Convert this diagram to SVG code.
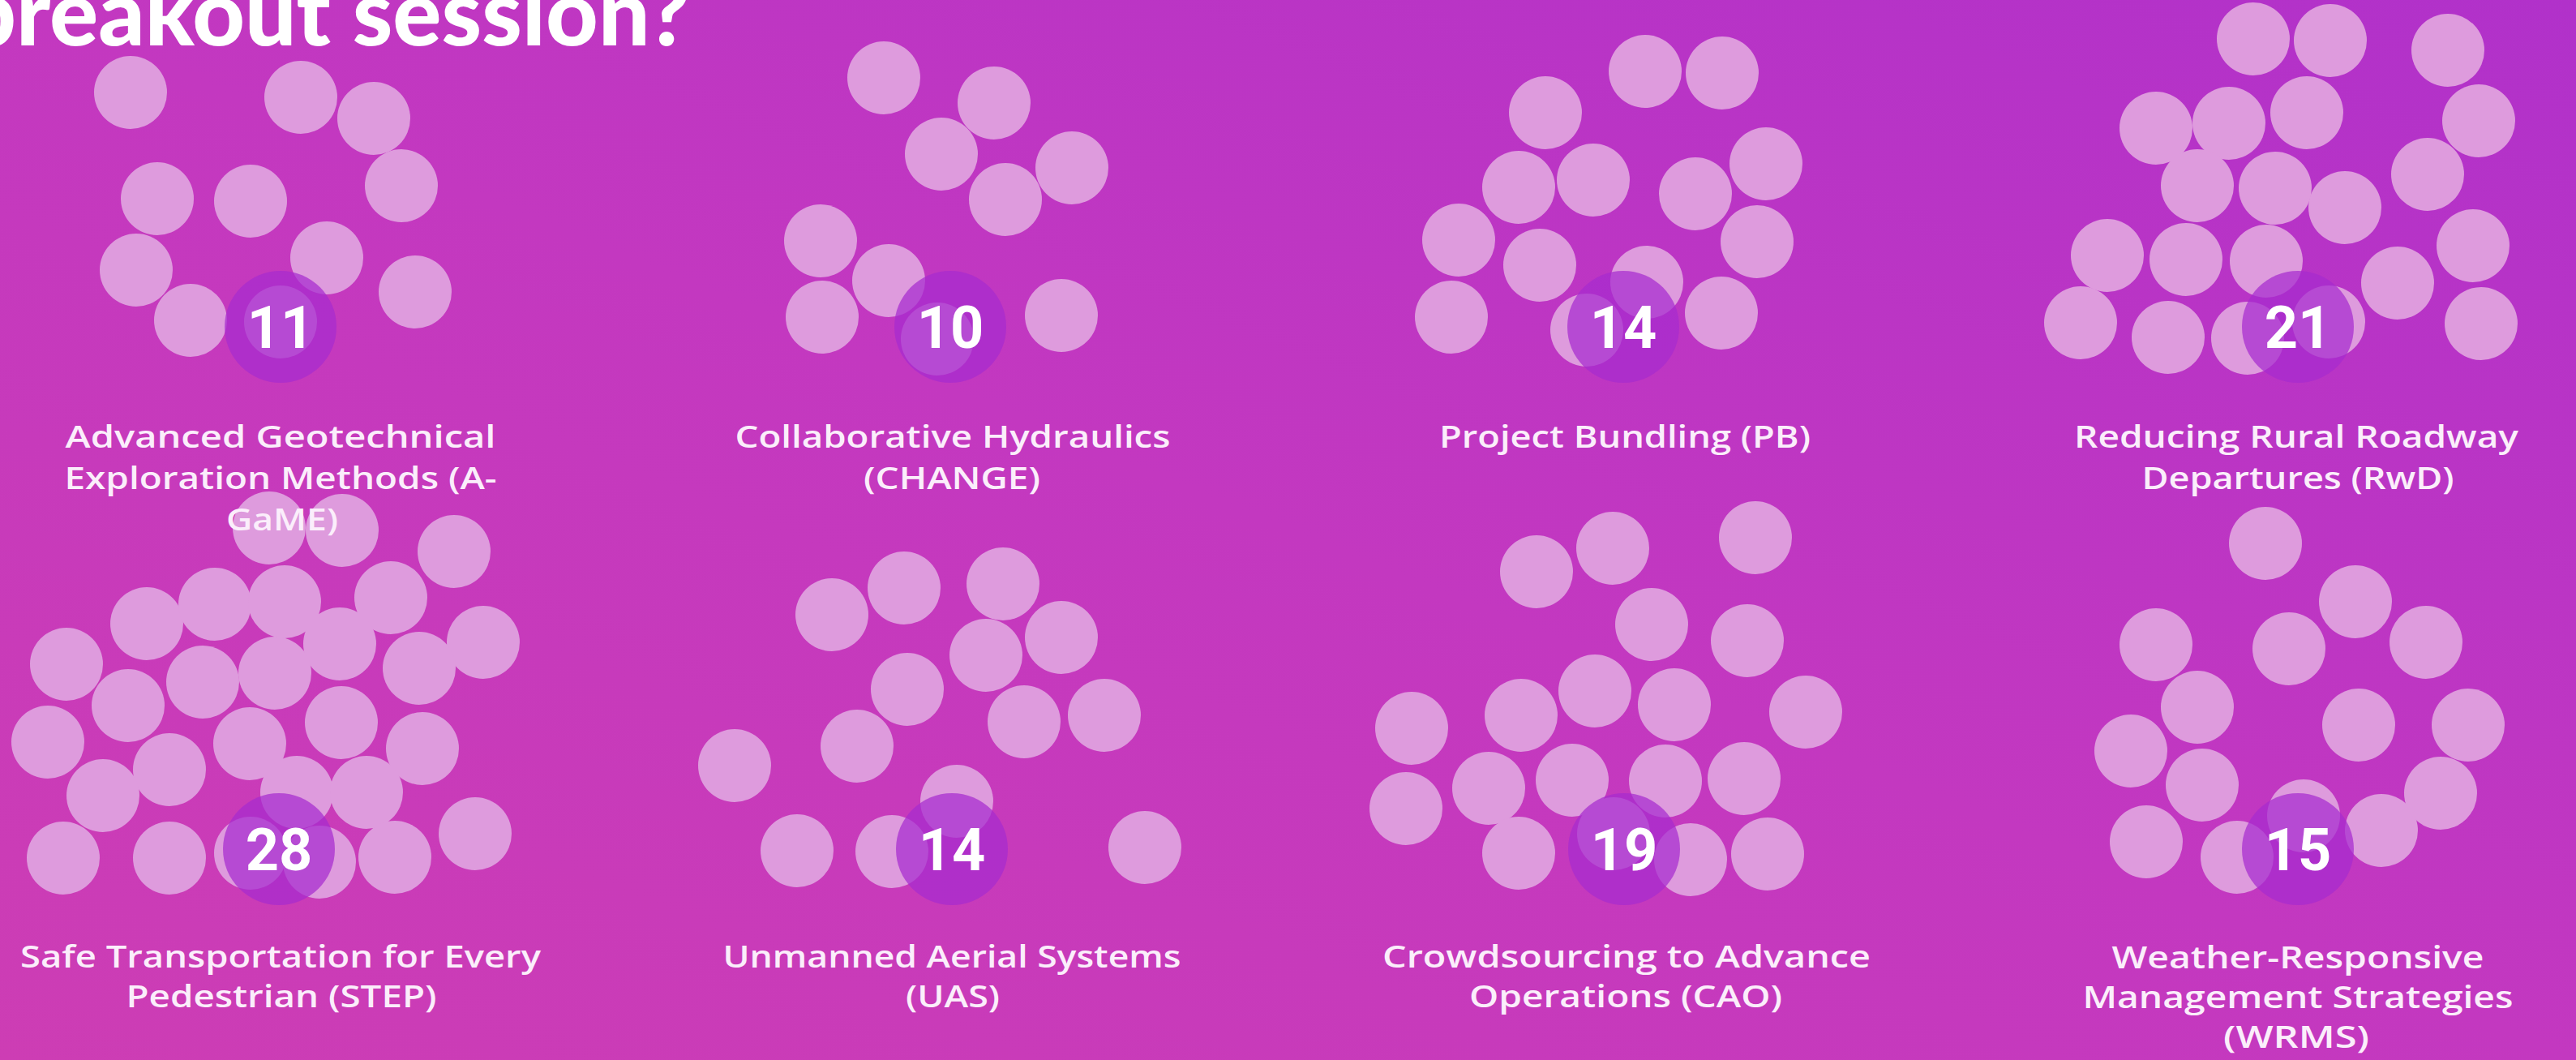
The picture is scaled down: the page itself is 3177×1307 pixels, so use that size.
<svg xmlns="http://www.w3.org/2000/svg" width="3177" height="1307" viewBox="0 0 3177 1307">
<defs>
<linearGradient id="bg" x1="0" y1="1" x2="1" y2="0">
<stop offset="0" stop-color="#cd3db4"/>
<stop offset="0.5" stop-color="#c338c0"/>
<stop offset="1" stop-color="#b131ca"/>
</linearGradient>
</defs>
<style>
.d{fill:#de9bdd}
.b{fill:#a62bcf;fill-opacity:0.72}
.n{font-family:Roboto,"Liberation Sans",sans-serif;font-weight:700;font-size:72px;fill:#ffffff;text-anchor:middle}
.l{font-family:"Open Sans","Liberation Sans",sans-serif;font-weight:600;font-size:38px;fill:#fbeefb;text-anchor:middle}
.t{font-family:Lato,"Liberation Sans",sans-serif;font-weight:900;font-size:112px;fill:#ffffff;text-anchor:end}
</style>
<rect width="3177" height="1307" fill="url(#bg)"/>
<text class="t" x="851" y="56" textLength="895" lengthAdjust="spacingAndGlyphs">breakout session?</text>

<g id="node-agame">
<circle class="d" cx="161" cy="114" r="45"/><circle class="d" cx="371" cy="120" r="45"/><circle class="d" cx="461" cy="146" r="45"/><circle class="d" cx="495" cy="229" r="45"/><circle class="d" cx="194" cy="245" r="45"/><circle class="d" cx="309" cy="248" r="45"/><circle class="d" cx="168" cy="333" r="45"/><circle class="d" cx="403" cy="318" r="45"/><circle class="d" cx="512" cy="360" r="45"/><circle class="d" cx="235" cy="395" r="45"/><circle class="d" cx="346" cy="397" r="45"/>
<circle class="b" cx="346" cy="403" r="69"/>
<text class="n" x="346" y="429">11</text>
</g>

<g id="node-change">
<circle class="d" cx="1090" cy="96" r="45"/><circle class="d" cx="1226" cy="127" r="45"/><circle class="d" cx="1161" cy="190" r="45"/><circle class="d" cx="1322" cy="207" r="45"/><circle class="d" cx="1240" cy="246" r="45"/><circle class="d" cx="1012" cy="297" r="45"/><circle class="d" cx="1096" cy="346" r="45"/><circle class="d" cx="1014" cy="391" r="45"/><circle class="d" cx="1309" cy="389" r="45"/><circle class="d" cx="1156" cy="418" r="45"/>
<circle class="b" cx="1172" cy="403" r="69"/>
<text class="n" x="1172" y="429">10</text>
</g>

<g id="node-pb">
<circle class="d" cx="2029" cy="88" r="45"/><circle class="d" cx="2124" cy="90" r="45"/><circle class="d" cx="1906" cy="139" r="45"/><circle class="d" cx="1873" cy="231" r="45"/><circle class="d" cx="1965" cy="222" r="45"/><circle class="d" cx="2178" cy="202" r="45"/><circle class="d" cx="2091" cy="239" r="45"/><circle class="d" cx="1799" cy="296" r="45"/><circle class="d" cx="1899" cy="327" r="45"/><circle class="d" cx="2167" cy="298" r="45"/><circle class="d" cx="2031" cy="348" r="45"/><circle class="d" cx="1790" cy="391" r="45"/><circle class="d" cx="2123" cy="386" r="45"/><circle class="d" cx="1957" cy="407" r="45"/>
<circle class="b" cx="2002" cy="403" r="69"/>
<text class="n" x="2002" y="429">14</text>
</g>

<g id="node-rwd">
<circle class="d" cx="2779" cy="48" r="45"/><circle class="d" cx="2874" cy="50" r="45"/><circle class="d" cx="3019" cy="62" r="45"/><circle class="d" cx="2659" cy="158" r="45"/><circle class="d" cx="2749" cy="152" r="45"/><circle class="d" cx="2845" cy="139" r="45"/><circle class="d" cx="3057" cy="149" r="45"/><circle class="d" cx="2710" cy="229" r="45"/><circle class="d" cx="2806" cy="232" r="45"/><circle class="d" cx="2994" cy="215" r="45"/><circle class="d" cx="2892" cy="256" r="45"/><circle class="d" cx="2599" cy="315" r="45"/><circle class="d" cx="2696" cy="320" r="45"/><circle class="d" cx="2795" cy="322" r="45"/><circle class="d" cx="3050" cy="303" r="45"/><circle class="d" cx="2957" cy="349" r="45"/><circle class="d" cx="2566" cy="398" r="45"/><circle class="d" cx="2674" cy="416" r="45"/><circle class="d" cx="2772" cy="417" r="45"/><circle class="d" cx="2872" cy="397" r="45"/><circle class="d" cx="3060" cy="399" r="45"/>
<circle class="b" cx="2834" cy="403" r="69"/>
<text class="n" x="2834" y="429">21</text>
</g>

<g id="node-step">
<circle class="d" cx="332" cy="651" r="45"/><circle class="d" cx="422" cy="654" r="45"/><circle class="d" cx="560" cy="680" r="45"/><circle class="d" cx="181" cy="769" r="45"/><circle class="d" cx="265" cy="745" r="45"/><circle class="d" cx="351" cy="742" r="45"/><circle class="d" cx="482" cy="737" r="45"/><circle class="d" cx="419" cy="794" r="45"/><circle class="d" cx="596" cy="792" r="45"/><circle class="d" cx="82" cy="819" r="45"/><circle class="d" cx="250" cy="841" r="45"/><circle class="d" cx="339" cy="830" r="45"/><circle class="d" cx="517" cy="824" r="45"/><circle class="d" cx="158" cy="870" r="45"/><circle class="d" cx="59" cy="915" r="45"/><circle class="d" cx="421" cy="891" r="45"/><circle class="d" cx="308" cy="917" r="45"/><circle class="d" cx="209" cy="949" r="45"/><circle class="d" cx="521" cy="923" r="45"/><circle class="d" cx="127" cy="981" r="45"/><circle class="d" cx="366" cy="977" r="45"/><circle class="d" cx="452" cy="977" r="45"/><circle class="d" cx="78" cy="1058" r="45"/><circle class="d" cx="209" cy="1058" r="45"/><circle class="d" cx="586" cy="1028" r="45"/><circle class="d" cx="487" cy="1057" r="45"/><circle class="d" cx="309" cy="1052" r="45"/><circle class="d" cx="394" cy="1063" r="45"/>
<circle class="b" cx="344" cy="1047" r="69"/>
<text class="n" x="344" y="1073">28</text>
</g>

<g id="node-uas">
<circle class="d" cx="1026" cy="758" r="45"/><circle class="d" cx="1115" cy="725" r="45"/><circle class="d" cx="1237" cy="720" r="45"/><circle class="d" cx="1309" cy="786" r="45"/><circle class="d" cx="1216" cy="808" r="45"/><circle class="d" cx="1119" cy="850" r="45"/><circle class="d" cx="1263" cy="890" r="45"/><circle class="d" cx="1362" cy="882" r="45"/><circle class="d" cx="1057" cy="920" r="45"/><circle class="d" cx="906" cy="944" r="45"/><circle class="d" cx="983" cy="1049" r="45"/><circle class="d" cx="1100" cy="1050" r="45"/><circle class="d" cx="1412" cy="1045" r="45"/><circle class="d" cx="1180" cy="988" r="45"/>
<circle class="b" cx="1174" cy="1047" r="69"/>
<text class="n" x="1174" y="1073">14</text>
</g>

<g id="node-cao">
<circle class="d" cx="1895" cy="705" r="45"/><circle class="d" cx="1989" cy="676" r="45"/><circle class="d" cx="2165" cy="663" r="45"/><circle class="d" cx="2037" cy="770" r="45"/><circle class="d" cx="2155" cy="790" r="45"/><circle class="d" cx="1967" cy="852" r="45"/><circle class="d" cx="1876" cy="882" r="45"/><circle class="d" cx="2065" cy="869" r="45"/><circle class="d" cx="2227" cy="878" r="45"/><circle class="d" cx="1741" cy="898" r="45"/><circle class="d" cx="1836" cy="972" r="45"/><circle class="d" cx="1939" cy="962" r="45"/><circle class="d" cx="2054" cy="963" r="45"/><circle class="d" cx="2151" cy="960" r="45"/><circle class="d" cx="1734" cy="997" r="45"/><circle class="d" cx="1873" cy="1052" r="45"/><circle class="d" cx="2085" cy="1060" r="45"/><circle class="d" cx="2180" cy="1053" r="45"/><circle class="d" cx="1990" cy="1028" r="45"/>
<circle class="b" cx="2003" cy="1047" r="69"/>
<text class="n" x="2003" y="1073">19</text>
</g>

<g id="node-wrms">
<circle class="d" cx="2794" cy="670" r="45"/><circle class="d" cx="2905" cy="742" r="45"/><circle class="d" cx="2659" cy="795" r="45"/><circle class="d" cx="2823" cy="800" r="45"/><circle class="d" cx="2992" cy="792" r="45"/><circle class="d" cx="2710" cy="872" r="45"/><circle class="d" cx="2909" cy="894" r="45"/><circle class="d" cx="3044" cy="894" r="45"/><circle class="d" cx="2628" cy="926" r="45"/><circle class="d" cx="2716" cy="968" r="45"/><circle class="d" cx="3010" cy="978" r="45"/><circle class="d" cx="2647" cy="1038" r="45"/><circle class="d" cx="2759" cy="1057" r="45"/><circle class="d" cx="2937" cy="1024" r="45"/><circle class="d" cx="2841" cy="1006" r="45"/>
<circle class="b" cx="2834" cy="1047" r="69"/>
<text class="n" x="2834" y="1073">15</text>
</g>

<g id="labels">
<text class="l" x="346" y="552" textLength="531" lengthAdjust="spacingAndGlyphs">Advanced Geotechnical</text>
<text class="l" x="346" y="603" textLength="533" lengthAdjust="spacingAndGlyphs">Exploration Methods (A-</text>
<text class="l" x="348" y="654" textLength="138" lengthAdjust="spacingAndGlyphs">GaME)</text>
<text class="l" x="1175" y="552" textLength="537" lengthAdjust="spacingAndGlyphs">Collaborative Hydraulics</text>
<text class="l" x="1174" y="603" textLength="218" lengthAdjust="spacingAndGlyphs">(CHANGE)</text>
<text class="l" x="2004" y="552" textLength="458" lengthAdjust="spacingAndGlyphs">Project Bundling (PB)</text>
<text class="l" x="2832" y="552" textLength="548" lengthAdjust="spacingAndGlyphs">Reducing Rural Roadway</text>
<text class="l" x="2834" y="603" textLength="385" lengthAdjust="spacingAndGlyphs">Departures (RwD)</text>
<text class="l" x="346" y="1193" textLength="642" lengthAdjust="spacingAndGlyphs">Safe Transportation for Every</text>
<text class="l" x="347" y="1242" textLength="383" lengthAdjust="spacingAndGlyphs">Pedestrian (STEP)</text>
<text class="l" x="1174" y="1193" textLength="565" lengthAdjust="spacingAndGlyphs">Unmanned Aerial Systems</text>
<text class="l" x="1175" y="1242" textLength="116" lengthAdjust="spacingAndGlyphs">(UAS)</text>
<text class="l" x="2006" y="1193" textLength="602" lengthAdjust="spacingAndGlyphs">Crowdsourcing to Advance</text>
<text class="l" x="2005" y="1242" textLength="386" lengthAdjust="spacingAndGlyphs">Operations (CAO)</text>
<text class="l" x="2834" y="1194" textLength="459" lengthAdjust="spacingAndGlyphs">Weather-Responsive</text>
<text class="l" x="2834" y="1243" textLength="531" lengthAdjust="spacingAndGlyphs">Management Strategies</text>
<text class="l" x="2832" y="1292" textLength="180" lengthAdjust="spacingAndGlyphs">(WRMS)</text>
</g>
<g id="connectors"/>
</svg>
